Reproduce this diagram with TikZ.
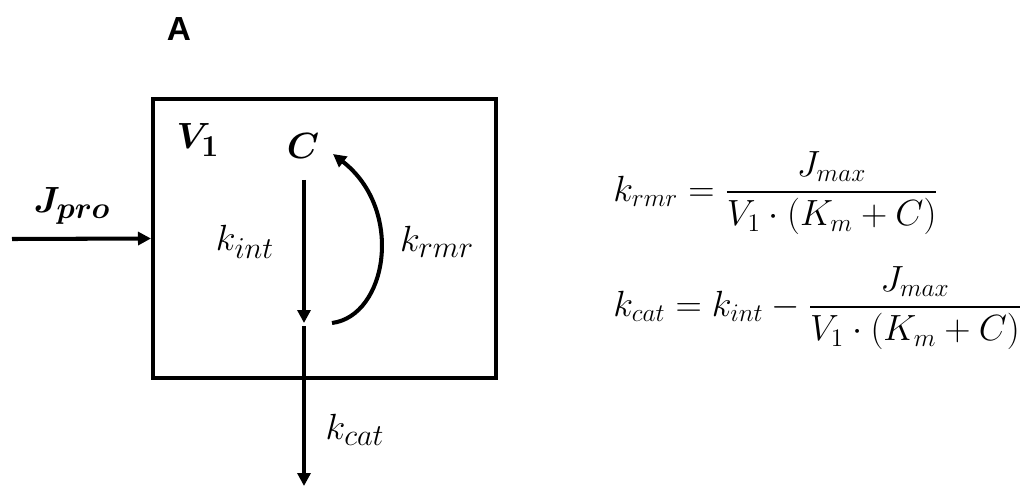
\documentclass[tikz,border=0pt]{standalone}
\usepackage{amsmath}
\usepackage{bm}
\usepackage{fontspec}
\newfontfamily\arialfont{Liberation Sans}
\DeclareMathSizes{21}{21}{16}{13}
\DeclareMathSizes{20}{20}{15.5}{12}
\usetikzlibrary{arrows.meta}
\begin{document}
\begin{tikzpicture}[x=0.02cm,y=-0.02cm,
  thick line/.style={line width=2.3pt},
  flow/.style={thick line,-{Triangle[length=2.6mm,width=2.6mm]}},
  lbl/.style={inner sep=0pt,font=\fontsize{21}{25}\selectfont},
  eqn/.style={inner sep=0pt,anchor=base west,font=\fontsize{20}{24}\selectfont}]
\useasboundingbox (0,0) rectangle (1030,486);
% panel label
\node[inner sep=0pt,font=\fontsize{19}{23}\selectfont\arialfont\bfseries] (A) at (179,29) {A};
% compartment
\node[draw,thick line,minimum width=343*0.02cm,minimum height=279*0.02cm,inner sep=0pt] (box) at (324.5,238.5) {};
\node[lbl] (V) at (198,140) {$\bm{V_1}$};
\node[lbl] (C) at (303,146) {$\bm{C}$};
\node[lbl] (Jpro) at (72,206) {$\bm{J_{pro}}$};
\node[lbl] (kint) at (245,242) {$k_{int}$};
\node[lbl] (krmr) at (437,242) {$k_{rmr}$};
\node[lbl] (kcat) at (355,430) {$k_{cat}$};
% coordinates
\coordinate (jin) at (12,239);
\coordinate (c1) at (304,180);
\coordinate (c2) at (304,323);
\coordinate (c3) at (304,326);
\coordinate (c4) at (304,486);
\coordinate (r1) at (332,323);
\coordinate (r2) at (333,154);
% connectors
\draw[flow] (jin) -- (box.west);
\draw[flow] (c1) -- (c2);
\draw[flow] (c3) -- (c4);
\draw[flow] (r1) .. controls (387,316) and (405,210) .. (r2);
% equations
\node[eqn] (eq1) at (613,201) {$k_{rmr}=\dfrac{J_{max}}{V_1\cdot(K_m+C)}$};
\node[eqn] (eq2) at (613,316) {$k_{cat}=k_{int}-\dfrac{J_{max}}{V_1\cdot(K_m+C)}$};
\end{tikzpicture}
\end{document}
